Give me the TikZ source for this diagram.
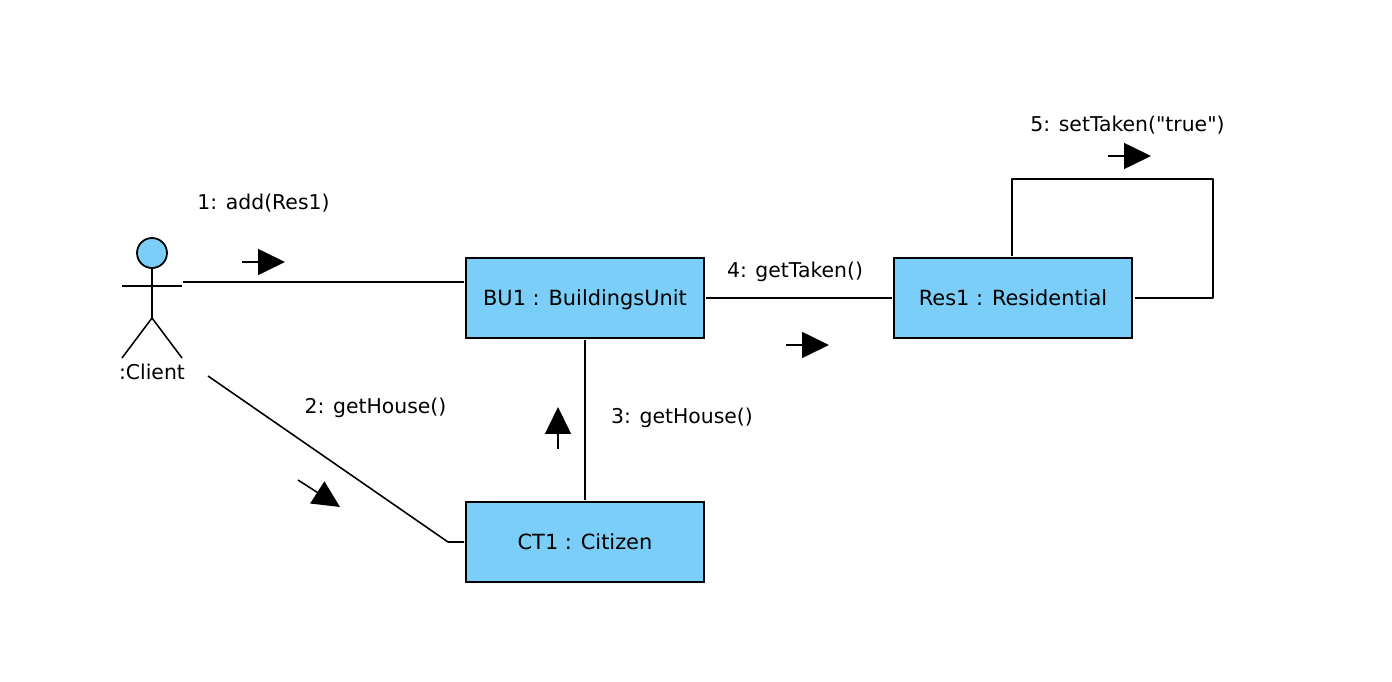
\documentclass[tikz,border=0pt]{standalone}
\usepackage{fontspec}
\setmainfont{DejaVu Sans}[Ligatures=TeXOff]
\usetikzlibrary{arrows.meta}
\definecolor{objblue}{RGB}{122,206,247}
\tikzset{
  obj/.style={draw,line width=1pt,fill=objblue,minimum width=4.76cm,minimum height=1.6cm,inner sep=0pt,text height=11pt,text depth=2.4pt,font=\fontsize{11.9}{14}\selectfont},
  msg/.style={font=\fontsize{11.6}{14}\selectfont,inner sep=0pt,text height=11pt,text depth=2.4pt},
  link/.style={draw,line width=0.9pt,line join=round},
  flow/.style={line width=0.9pt,-{Triangle[length=0.54cm,width=0.52cm]}}
}
\begin{document}
\begin{tikzpicture}[x=0.02cm,y=-0.02cm]
\useasboundingbox (0,0) rectangle (1392,682);

\node[obj] (bu) at (585,298) {BU1 : BuildingsUnit};
\node[obj] (ct) at (585,542) {CT1 : Citizen};
\node[obj] (res) at (1013,298) {Res1 : Residential};

\node[circle,draw,line width=1pt,fill=objblue,minimum size=0.6cm,inner sep=0pt] (head) at (152,253) {};
\coordinate (hip) at (152,318);
\coordinate (armL) at (122,286);
\coordinate (armR) at (182,286);
\coordinate (legL) at (122,358);
\coordinate (legR) at (182,358);
\draw[link] (head) -- (hip);
\draw[link] (armL) -- (armR);
\draw[link] (legL) -- (hip) -- (legR);
\node[msg] (client) at (152,372) {:Client};

\coordinate (c1) at (183,282);
\coordinate (c2) at (208,376);
\coordinate (c2b) at (448,542);
\coordinate (c5a) at (1213,298);
\coordinate (c5b) at (1213,179);
\coordinate (c5c) at (1012,179);

\draw[link,shorten >=0.6pt] (c1) -- (c1 -| bu.west);
\draw[link,shorten >=0.6pt] (c2) -- (c2b) -- (ct.west);
\draw[link,shorten >=0.6pt,shorten <=0.6pt] (ct) -- (bu);
\draw[link,shorten >=0.6pt,shorten <=0.6pt] (bu) -- (res);
\draw[link,shorten >=0.6pt,shorten <=1pt] (res.east) -- (c5a) -- (c5b) -- (c5c) -- (c5c |- res.north);

\node[msg] (m1) at (263.5,202) {1: add(Res1)};
\node[msg] (m2) at (375.5,406) {2: getHouse()};
\node[msg] (m3) at (682,416) {3: getHouse()};
\node[msg] (m4) at (795,270) {4: getTaken()};
\node[msg] (m5) at (1127.5,124) {5: setTaken("true")};

\coordinate (a1s) at (242,262);
\coordinate (a1e) at (285,262);
\coordinate (a2s) at (298,480);
\coordinate (a2e) at (340,507);
\coordinate (a3s) at (558,449);
\coordinate (a3e) at (558,407);
\coordinate (a4s) at (786,345);
\coordinate (a4e) at (829,345);
\coordinate (a5s) at (1108,156);
\coordinate (a5e) at (1151,156);
\draw[flow] (a1s) -- (a1e);
\draw[flow] (a2s) -- (a2e);
\draw[flow] (a3s) -- (a3e);
\draw[flow] (a4s) -- (a4e);
\draw[flow] (a5s) -- (a5e);
\end{tikzpicture}
\end{document}
